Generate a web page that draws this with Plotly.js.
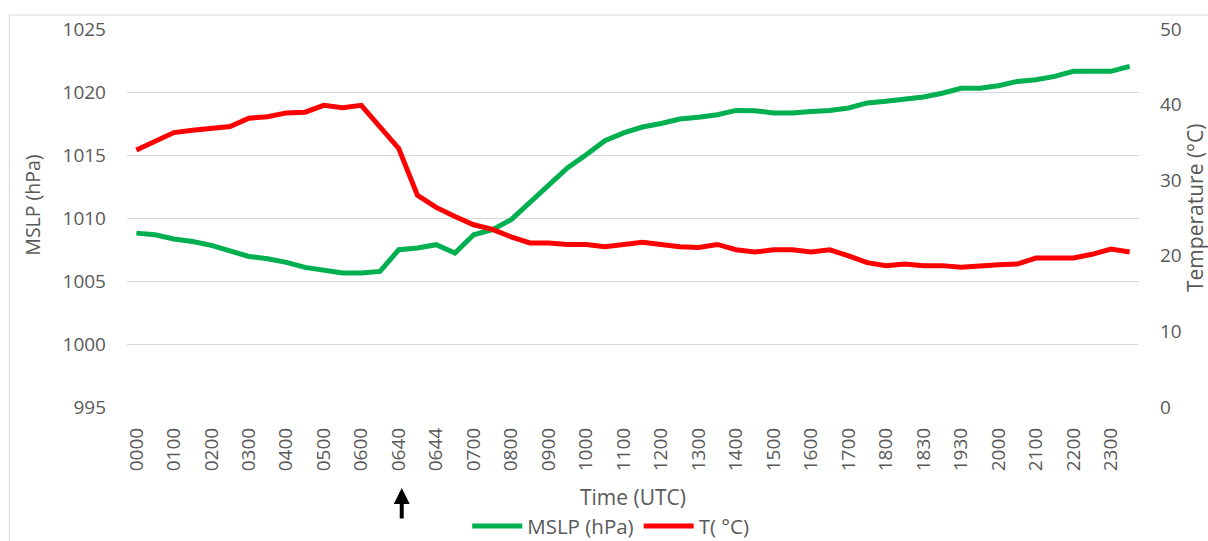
<!DOCTYPE html>
<html>
<head>
<meta charset="utf-8">
<script src="https://cdn.plot.ly/plotly-3.0.1.min.js"></script>
<style>
  html, body { margin: 0; padding: 0; background: #ffffff; }
  #chart { width: 1208px; height: 541px; }
</style>
</head>
<body>
<div id="chart"></div>
<script>
// Tick labels shown on the category axis (every second observation is labelled)
const timeLabels = ["0000","0100","0200","0300","0400","0500","0600","0640","0644","0700",
  "0800","0900","1000","1100","1200","1300","1400","1500","1600","1700",
  "1800","1830","1930","2000","2100","2200","2300"];

// Mean sea level pressure (hPa), one value per observation
const mslp = [1008.8, 1008.67, 1008.33, 1008.14, 1007.83, 1007.4, 1006.95, 1006.77, 1006.48, 1006.08,
  1005.9, 1005.63, 1005.63, 1005.76, 1007.48, 1007.62, 1007.88, 1007.22, 1008.67, 1009.07,
  1009.87, 1011.27, 1012.64, 1013.97, 1015.02, 1016.13, 1016.75, 1017.22, 1017.5, 1017.85,
  1018.0, 1018.2, 1018.54, 1018.52, 1018.33, 1018.33, 1018.46, 1018.54, 1018.73, 1019.13,
  1019.26, 1019.44, 1019.6, 1019.9, 1020.3, 1020.3, 1020.5, 1020.84, 1020.98, 1021.24,
  1021.64, 1021.64, 1021.64, 1022.03];

// Air temperature (°C), one value per observation
const temperature = [34.0, 35.2, 36.3, 36.6, 36.9, 37.1, 38.2, 38.4, 38.9, 39.0,
  39.9, 39.6, 39.9, 37.1, 34.2, 28.0, 26.4, 25.2, 24.1, 23.5,
  22.5, 21.7, 21.7, 21.5, 21.5, 21.2, 21.5, 21.8, 21.5, 21.2,
  21.1, 21.5, 20.8, 20.5, 20.8, 20.8, 20.5, 20.8, 20.0, 19.1,
  18.7, 18.9, 18.7, 18.7, 18.5, 18.7, 18.8, 18.9, 19.7, 19.7,
  19.7, 20.2, 20.9, 20.5];

const obsIndex = mslp.map((_, i) => i);
const tickIndex = timeLabels.map((_, i) => i * 2);
const arrowLabel = "0640";
const leftTitle = "MSLP (hPa)";
const rightTitle = "Temperature (°C)";

const FONT = "Open Sans, Segoe UI, Arial, sans-serif";
const TXT = "#595959";

const traces = [
  {
    x: obsIndex, y: mslp, name: "MSLP (hPa)", type: "scatter", mode: "lines",
    line: { color: "#00B050", width: 5 }, yaxis: "y"
  },
  {
    x: obsIndex, y: temperature, name: "T( °C)", type: "scatter", mode: "lines",
    line: { color: "#FF0000", width: 5 }, yaxis: "y2"
  }
];

const layout = {
  width: 1208, height: 541,
  margin: { l: 127, r: 69, t: 29, b: 134, autoexpand: false },
  paper_bgcolor: "#ffffff", plot_bgcolor: "#ffffff",
  font: { family: FONT, color: TXT, size: 19 },
  showlegend: true,
  legend: {
    orientation: "h", x: 0.478, xanchor: "center", y: -0.315, yanchor: "middle",
    itemwidth: 50,
    font: { family: FONT, size: 20.5, color: TXT }, bgcolor: "rgba(0,0,0,0)"
  },
  xaxis: {
    range: [-0.5, mslp.length - 0.5],
    tickmode: "array", tickvals: tickIndex, ticktext: timeLabels,
    tickangle: -90, ticks: "", showgrid: false, zeroline: false, showline: false,
    ticklabelstandoff: 16,
    tickfont: { family: FONT, size: 19, color: TXT },
    title: { text: "Time (UTC)", font: { family: FONT, size: 21, color: TXT }, standoff: 20 },
    automargin: false
  },
  yaxis: {
    range: [995, 1025], dtick: 5, tick0: 995,
    showgrid: true, gridcolor: "#d9d9d9", gridwidth: 1,
    zeroline: false, showline: false, ticks: "",
    ticklabelstandoff: 20,
    tickfont: { family: FONT, size: 19, color: TXT },
    automargin: false
  },
  yaxis2: {
    range: [0, 50], dtick: 10, tick0: 0,
    overlaying: "y", side: "right",
    showgrid: false, zeroline: false, showline: false, ticks: "",
    ticklabelstandoff: 20,
    tickfont: { family: FONT, size: 19, color: TXT },
    automargin: false
  },
  shapes: [
    {
      type: "rect", xref: "paper", yref: "paper",
      x0: -0.1163, x1: 1.08, y0: -0.45, y1: 1.037,
      line: { color: "#d9d9d9", width: 1 }, fillcolor: "rgba(0,0,0,0)", layer: "below"
    }
  ],
  annotations: [
    {
      // vertical axis title, left
      xref: "paper", yref: "paper", x: -0.0934, y: 0.534,
      xanchor: "center", yanchor: "middle", textangle: -90, showarrow: false,
      text: leftTitle, font: { family: FONT, size: 19.5, color: TXT }
    },
    {
      // vertical axis title, right, kept fully inside the picture
      xref: "paper", yref: "paper", x: 1.0553, y: 0.529,
      xanchor: "center", yanchor: "middle", textangle: -90, showarrow: false,
      text: rightTitle, font: { family: FONT, size: 21, color: TXT }
    },
    {
      xref: "x", yref: "paper",
      x: tickIndex[timeLabels.indexOf(arrowLabel)], y: -0.214,
      xshift: 3,
      text: "", showarrow: true, ax: 0, ay: 32,
      arrowhead: 2, arrowsize: 0.8, arrowwidth: 4, arrowcolor: "#000000"
    }
  ]
};

Plotly.newPlot("chart", traces, layout, { displayModeBar: false, responsive: false });
</script>
</body>
</html>
